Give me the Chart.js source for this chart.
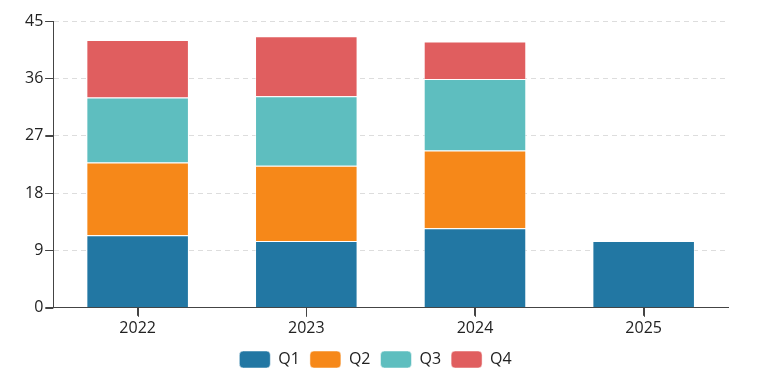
<html>
<head>
<meta charset="utf-8">
<style>
  body { margin: 0; background: #fff; }
  #wrap { width: 768px; height: 386px; }
</style>
</head>
<body>
<div id="wrap"><canvas id="chart"></canvas></div>
<script src="https://cdn.jsdelivr.net/npm/chart.js"></script>
<script>
var years = ["2022", "2023", "2024", "2025"];
var q1 = [11.4, 10.5, 12.5, 10.5];
var q2 = [11.4, 11.8, 12.2, null];
var q3 = [10.2, 10.9, 11.2, null];
var q4 = [9.0, 9.4, 5.9, null];
var yTicks = [0, 9, 18, 27, 36, 45];

Chart.defaults.font.family = "'Open Sans', 'DejaVu Sans', sans-serif";
Chart.defaults.font.size = 16;
Chart.defaults.color = "#222";

function ds(label, data, color) {
    return { label: label, data: data, backgroundColor: color, borderColor: "rgba(255,255,255,0.5)", borderWidth: 1 };
}

// short solid tick marks outside the axes
var tickMarks = {
    id: "tickMarks",
    afterDraw: function (chart) {
        var ctx = chart.ctx, x = chart.scales.x, y = chart.scales.y;
        var bottom = chart.chartArea.bottom, left = chart.chartArea.left;
        ctx.save();
        ctx.strokeStyle = "#444";
        ctx.lineWidth = 1;
        ctx.setLineDash([]);
        ctx.beginPath();
        x.ticks.forEach(function (t, i) {
            var px = Math.round(x.getPixelForTick(i)) + 0.5;
            ctx.moveTo(px, bottom);
            ctx.lineTo(px, bottom + 9);
        });
        y.ticks.forEach(function (t, i) {
            var py = Math.round(y.getPixelForTick(i)) + 0.5;
            ctx.moveTo(left - 8, py);
            ctx.lineTo(left, py);
        });
        ctx.stroke();
        ctx.restore();
    }
};

var chart = new Chart(document.getElementById("chart"), {
    type: "bar",
    data: {
        labels: years,
        datasets: [
            ds("Q1", q1, "#2277a3"),
            ds("Q2", q2, "#f68819"),
            ds("Q3", q3, "#5ebebf"),
            ds("Q4", q4, "#e05e5f")
        ]
    },
    plugins: [tickMarks],
    options: {
        responsive: true,
        maintainAspectRatio: false,
        animation: false,
        layout: { padding: { top: 21, right: 40, left: 23, bottom: 8 } },
        datasets: { bar: { barPercentage: 0.76, categoryPercentage: 0.8 } },
        scales: {
            x: {
                stacked: true,
                grid: { offset: false, drawOnChartArea: false, tickColor: "#444", tickLength: 8 },
                border: { color: "#444" },
                ticks: { padding: 3, font: { size: 16 } }
            },
            y: {
                stacked: true,
                min: 0,
                max: 45,
                afterBuildTicks: function (axis) {
                    axis.ticks = yTicks.map(function (v) { return { value: v }; });
                },
                grid: { color: "#dddddd", tickColor: "#444", tickLength: 8 },
                border: { color: "#444", dash: [5, 4] },
                ticks: { padding: 2, font: { size: 16 } }
            }
        },
        plugins: {
            legend: {
                position: "bottom",
                labels: { boxWidth: 31, boxHeight: 17, useBorderRadius: true, borderRadius: 4, padding: 10, font: { size: 16 } }
            },
            tooltip: { enabled: false }
        }
    }
});
</script>
</body>
</html>
